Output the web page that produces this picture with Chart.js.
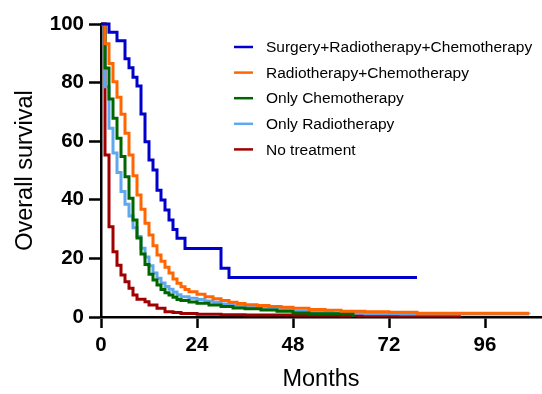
<!DOCTYPE html>
<html>
<head>
<meta charset="utf-8">
<script src="https://cdn.jsdelivr.net/npm/chart.js@4/dist/chart.umd.min.js"></script>
<style>
  html, body { margin: 0; padding: 0; background: #fff; }
  #wrap { width: 542px; height: 394px; }
</style>
</head>
<body>
<div id="wrap"><canvas id="km" width="542" height="394"></canvas></div>
<script>
// Kaplan-Meier overall survival by treatment group (months, % surviving)
const seriesLabels = [
  'Surgery+Radiotherapy+Chemotherapy',
  'Radiotherapy+Chemotherapy',
  'Only Chemotherapy',
  'Only Radiotherapy',
  'No treatment'
];

const surgeryRadioChemoMonths = [0, 2, 4, 6, 7, 8, 9, 10, 11, 12, 13, 14, 15, 16, 17, 18, 19, 21, 30, 32, 79];
const surgeryRadioChemoSurvival = [100, 97.2, 94.3, 88.1, 85.1, 81.8, 78.8, 69.3, 59.8, 53.6, 50.2, 43.3, 39.9, 36.5, 33.1, 29.9, 26.9, 23.4, 16.6, 13.5, 13.5];

const radioChemoMonths = [0, 1, 2, 3, 4, 5, 6, 7, 8, 9, 10, 11, 12, 13, 14, 15, 16, 17, 18, 19, 20, 21, 22, 24, 26, 28, 30, 32, 34, 36, 39, 42, 45, 48, 52, 56, 60, 66, 72, 79, 107];
const radioChemoSurvival = [100, 93.3, 86.5, 80.3, 75.0, 69.2, 62.7, 55.3, 48.2, 41.6, 36.8, 32.0, 28.0, 24.3, 21.2, 19.0, 17.0, 15.0, 13.0, 11.5, 10.3, 9.4, 8.6, 7.8, 6.9, 6.2, 5.6, 5.0, 4.6, 4.2, 3.9, 3.6, 3.3, 3.0, 2.6, 2.3, 2.0, 1.8, 1.6, 1.3, 1.3];

const chemoOnlyMonths = [0, 1, 2, 3, 4, 5, 6, 7, 8, 9, 10, 11, 12, 13, 14, 15, 16, 17, 18, 19, 20, 22, 24, 27, 30, 33, 36, 40, 44, 48, 52, 63];
const chemoOnlySurvival = [100, 85.0, 74.4, 67.8, 61.0, 54.8, 47.9, 40.5, 33.1, 27.0, 21.5, 17.9, 14.6, 12.6, 10.9, 9.4, 8.3, 7.5, 6.7, 6.0, 5.6, 5.1, 4.7, 4.1, 3.6, 3.1, 2.8, 2.4, 2.0, 1.4, 1.1, 0];

const radioOnlyMonths = [0, 1, 2, 3, 4, 5, 6, 7, 8, 9, 10, 11, 12, 13, 14, 15, 16, 17, 18, 19, 20, 22, 24, 26, 28, 30, 33, 36, 40, 44, 48, 52, 58, 66, 75, 107];
const radioOnlySurvival = [100, 78.6, 64.4, 56.0, 49.3, 42.8, 38.5, 34.5, 30.5, 27.5, 23.5, 20.5, 17.5, 15.0, 13.2, 11.6, 10.4, 9.5, 8.5, 7.6, 6.9, 6.4, 6.0, 5.5, 5.0, 4.4, 3.8, 3.4, 3.0, 2.5, 2.0, 1.7, 1.3, 1.1, 1.0, 0.9];

const noTreatmentMonths = [0, 1, 2, 3, 4, 5, 6, 7, 8, 9, 11, 12, 14, 16, 18, 20, 24, 30, 36, 48, 60, 75, 90];
const noTreatmentSurvival = [100, 55.3, 30.8, 22.3, 17.7, 14.3, 12.0, 9.8, 7.5, 6.1, 5.2, 4.1, 3.0, 1.8, 1.5, 1.2, 0.9, 0.8, 0.7, 0.6, 0.5, 0.4, 0.4];

const xTickValues = [0, 24, 48, 72, 96];
const yTickValues = [0, 20, 40, 60, 80, 100];

const seriesColors = ['#0000CC', '#FF6600', '#006600', '#5FA8F0', '#A00000'];

const FONT = '"Liberation Sans", Arial, Helvetica, sans-serif';

function toPoints(months, survival) {
  return months.map((m, i) => ({ x: m, y: survival[i] }));
}

const seriesData = [
  toPoints(surgeryRadioChemoMonths, surgeryRadioChemoSurvival),
  toPoints(radioChemoMonths, radioChemoSurvival),
  toPoints(chemoOnlyMonths, chemoOnlySurvival),
  toPoints(radioOnlyMonths, radioOnlySurvival),
  toPoints(noTreatmentMonths, noTreatmentSurvival)
];

const datasets = seriesData.map((pts, i) => ({
  label: seriesLabels[i],
  data: pts,
  borderColor: seriesColors[i],
  backgroundColor: seriesColors[i],
  borderWidth: 3,
  stepped: true,
  pointRadius: 0,
  pointHoverRadius: 0,
  fill: false,
  tension: 0,
  clip: false
}));

// Legend drawn inside the plot area, upper right
const insetLegend = {
  id: 'insetLegend',
  afterDraw(chart) {
    const ctx = chart.ctx;
    const lineX0 = 234, lineX1 = 253, textX = 266;
    const rowY0 = 47, rowGap = 25.6;
    ctx.save();
    ctx.font = '15.5px ' + FONT;
    ctx.textBaseline = 'middle';
    ctx.textAlign = 'left';
    chart.data.datasets.forEach((ds, i) => {
      const y = rowY0 + i * rowGap;
      ctx.strokeStyle = ds.borderColor;
      ctx.lineWidth = 2.5;
      ctx.beginPath();
      ctx.moveTo(lineX0, y);
      ctx.lineTo(lineX1, y);
      ctx.stroke();
      ctx.fillStyle = '#000';
      ctx.fillText(ds.label, textX, y + 1);
    });
    ctx.restore();
  }
};

new Chart(document.getElementById('km'), {
  type: 'line',
  data: { datasets },
  plugins: [insetLegend],
  options: {
    responsive: false,
    animation: false,
    devicePixelRatio: 1,
    layout: { padding: { top: 24, right: 1, bottom: 0, left: 0 } },
    plugins: {
      legend: { display: false },
      tooltip: { enabled: false }
    },
    scales: {
      x: {
        type: 'linear',
        min: 0,
        max: 110,
        afterBuildTicks(scale) { scale.ticks = xTickValues.map(v => ({ value: v })); },
        afterFit(scale) { scale.height = 77; },
        grid: { display: true, drawOnChartArea: false, drawTicks: true, tickLength: 11, tickWidth: 2.5, tickColor: '#000' },
        border: { display: true, color: '#000', width: 2.5 },
        ticks: {
          color: '#000',
          padding: 5,
          maxRotation: 0,
          font: { family: FONT, size: 20.5, weight: 'bold' }
        },
        title: {
          display: true,
          text: 'Months',
          color: '#000',
          padding: { top: 0, bottom: 0 },
          font: { family: FONT, size: 23.5, weight: 'normal' }
        }
      },
      y: {
        type: 'linear',
        min: 0,
        max: 100,
        afterBuildTicks(scale) { scale.ticks = yTickValues.map(v => ({ value: v })); },
        afterFit(scale) { scale.width = 101; },
        grid: { display: true, drawOnChartArea: false, drawTicks: true, tickLength: 12, tickWidth: 2.5, tickColor: '#000' },
        border: { display: true, color: '#000', width: 2.5 },
        ticks: {
          color: '#000',
          padding: 5,
          font: { family: FONT, size: 20.5, weight: 'bold' }
        },
        title: {
          display: true,
          text: 'Overall survival',
          color: '#000',
          padding: { top: 11, bottom: 0 },
          font: { family: FONT, size: 23.5, weight: 'normal' }
        }
      }
    }
  }
});
</script>
</body>
</html>
